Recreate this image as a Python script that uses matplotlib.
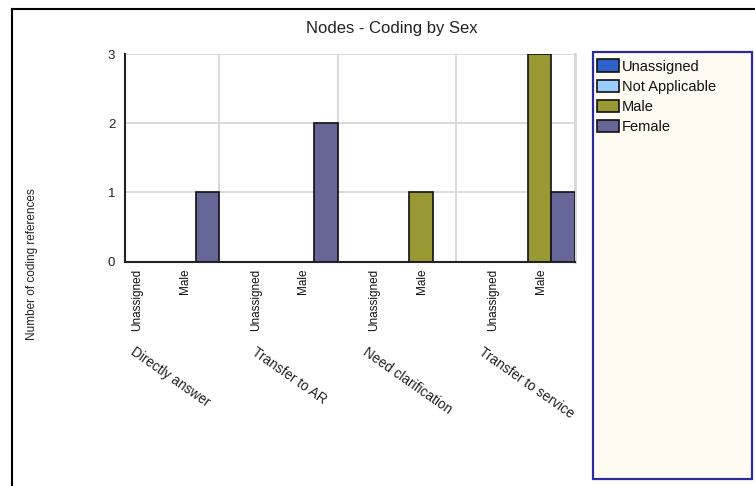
import matplotlib
matplotlib.use("Agg")
import matplotlib.pyplot as plt
from matplotlib.patches import Rectangle
from matplotlib.lines import Line2D
import numpy as np

plt.rcParams['font.family'] = ['Liberation Sans', 'DejaVu Sans']

title = "Nodes - Coding by Sex"
ylabel = "Number of coding references"
categories = ["Directly answer", "Transfer to AR", "Need clarification", "Transfer to service"]
sub_labels = ["Unassigned", "Male"]
series_names = ["Unassigned", "Not Applicable", "Male", "Female"]
series_values = {
    "Unassigned":     [0, 0, 0, 0],
    "Not Applicable": [0, 0, 0, 0],
    "Male":           [0, 0, 1, 3],
    "Female":         [1, 2, 0, 1],
}
colors = ["#2E62C9", "#99CCFF", "#999933", "#666699"]
yticks = [0, 1, 2, 3]

W, H = 755, 486
fig = plt.figure(figsize=(W / 100, H / 100), dpi=100)
fig.patch.set_facecolor("white")

ax = fig.add_axes([125 / W, 1 - 261.7 / H, (575 - 125) / W, (261.7 - 54) / H])

n = len(categories)
x = np.arange(n)
bw = 0.2
handles = []
for k, name in enumerate(series_names):
    bc = ax.bar(x + 0.2 + k * bw, series_values[name], width=bw, align="edge",
                color=colors[k], edgecolor="#111111", linewidth=1.2, zorder=3,
                label=name)
    handles.append(bc)

ax.set_xlim(0.205, n)
ax.set_ylim(0, 3)
ax.set_yticks(yticks)
ax.set_yticklabels([str(v) for v in yticks], fontsize=9.5, color="#222222")
ax.tick_params(axis="y", length=0, pad=7)

sub_pos = []
sub_txt = []
for i in range(n):
    sub_pos += [i + 0.31, i + 0.71]
    sub_txt += sub_labels
ax.set_xticks(sub_pos)
ax.set_xticklabels(sub_txt, rotation=90, fontsize=8.5, color="#111111", va="top", ha="center")
ax.tick_params(axis="x", length=0, pad=5)

ax.set_xticks(np.arange(1, n + 1), minor=True)
ax.tick_params(axis="x", which="minor", length=0)
ax.grid(True, which="minor", axis="x", color="#d8d8d8", linewidth=1.3, zorder=0)
ax.grid(True, which="major", axis="y", color="#d8d8d8", linewidth=1.3, zorder=0)
ax.grid(False, which="major", axis="x")
ax.set_axisbelow(True)

for s in ["top", "right"]:
    ax.spines[s].set_visible(False)
ax.axvline(n, color="#d8d8d8", linewidth=2.0, zorder=0, clip_on=False)
for s in ["left", "bottom"]:
    ax.spines[s].set_color("#222222")
    ax.spines[s].set_linewidth(1.5)
    ax.spines[s].set_zorder(4)

for i, c in enumerate(categories):
    ax.text(i + 0.59, -0.401, c, transform=ax.get_xaxis_transform(),
            rotation=-35, ha="center", va="top", fontsize=9.8, color="#222222")

fig.text(392 / W, 1 - 28 / H, title, ha="center", va="center", fontsize=12, color="#222222")
fig.text(32 / W, 1 - 264 / H, ylabel, ha="center", va="center", rotation=90,
         fontsize=8.5, color="#222222")

# legend box
rect = Rectangle((593 / W, 1 - 479 / H), 159 / W, 427 / H, transform=fig.transFigure,
                 facecolor="#FFFAF2", edgecolor="#2B2B9E", linewidth=1.6, zorder=-1)
fig.patches.append(rect)
fs = 10.5
fpx = fs * 100 / 72
leg = fig.legend(handles=handles, labels=series_names, loc="upper left",
                 bbox_to_anchor=(597 / W, 1 - 59.5 / H), bbox_transform=fig.transFigure,
                 frameon=False, borderpad=0, borderaxespad=0, fontsize=fs,
                 handlelength=22 / fpx, handleheight=13 / fpx,
                 handletextpad=0.2, labelspacing=0.43)
for t in leg.get_texts():
    t.set_color("#111111")

# outer frame
fig.add_artist(Line2D([12 / W, 12 / W], [0, 1 - 9 / H], transform=fig.transFigure,
                      color="black", linewidth=1.5))
fig.add_artist(Line2D([12 / W, 1], [1 - 9 / H, 1 - 9 / H], transform=fig.transFigure,
                      color="black", linewidth=1.5))

fig.savefig("out.png", dpi=100)
